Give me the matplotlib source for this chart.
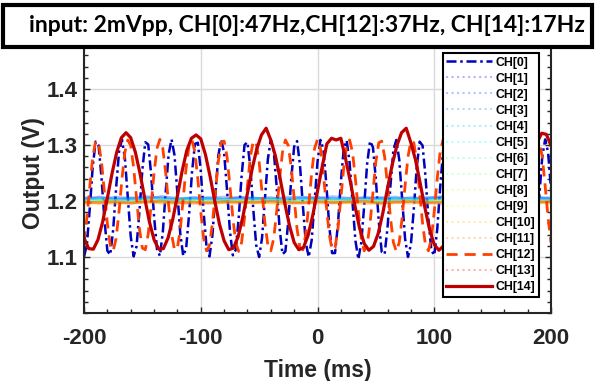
import matplotlib
matplotlib.use("Agg")
import matplotlib.pyplot as plt
import numpy as np
from matplotlib.patches import Rectangle
from matplotlib.ticker import MultipleLocator

plt.rcParams['axes.unicode_minus'] = False

# CH[0] (47 Hz) and CH[12] (37 Hz), sampled every 2.5 ms (V)
t = np.arange(-200, 200.1, 2.5)
ch0 = [1.100, 1.123, 1.188, 1.262, 1.306, 1.299, 1.242, 1.167, 1.111, 1.104,
       1.149, 1.223, 1.288, 1.310, 1.277, 1.208, 1.137, 1.101, 1.119, 1.182,
       1.256, 1.305, 1.301, 1.248, 1.173, 1.114, 1.102, 1.144, 1.217, 1.284,
       1.310, 1.282, 1.214, 1.141, 1.102, 1.116, 1.176, 1.251, 1.302, 1.304,
       1.254, 1.179, 1.117, 1.101, 1.139, 1.211, 1.280, 1.310, 1.286, 1.220,
       1.146, 1.103, 1.113, 1.170, 1.245, 1.300, 1.305, 1.259, 1.185, 1.121,
       1.100, 1.134, 1.205, 1.275, 1.309, 1.290, 1.226, 1.152, 1.105, 1.110,
       1.164, 1.239, 1.297, 1.307, 1.264, 1.191, 1.125, 1.100, 1.130, 1.198,
       1.270, 1.309, 1.293, 1.232, 1.157, 1.107, 1.107, 1.158, 1.234, 1.294,
       1.308, 1.269, 1.197, 1.129, 1.096, 1.126, 1.192, 1.266, 1.307, 1.296,
       1.238, 1.163, 1.109, 1.105, 1.153, 1.228, 1.291, 1.309, 1.274, 1.203,
       1.133, 1.100, 1.122, 1.186, 1.260, 1.306, 1.299, 1.244, 1.168, 1.112,
       1.103, 1.148, 1.222, 1.287, 1.310, 1.279, 1.209, 1.138, 1.101, 1.118,
       1.180, 1.255, 1.304, 1.302, 1.250, 1.174, 1.115, 1.102, 1.143, 1.215,
       1.283, 1.310, 1.283, 1.215, 1.143, 1.102, 1.115, 1.174, 1.250, 1.302,
       1.304, 1.255, 1.180, 1.118, 1.101, 1.138, 1.209, 1.279, 1.310, 1.287,
       1.222]
ch12 = [1.126, 1.170, 1.227, 1.279, 1.307, 1.304, 1.270, 1.216, 1.160, 1.121,
        1.111, 1.133, 1.181, 1.239, 1.287, 1.309, 1.299, 1.260, 1.204, 1.150,
        1.116, 1.113, 1.141, 1.193, 1.250, 1.294, 1.310, 1.294, 1.250, 1.193,
        1.141, 1.113, 1.116, 1.150, 1.204, 1.260, 1.299, 1.309, 1.287, 1.239,
        1.181, 1.133, 1.111, 1.121, 1.160, 1.216, 1.270, 1.304, 1.307, 1.279,
        1.227, 1.170, 1.126, 1.110, 1.126, 1.170, 1.227, 1.279, 1.307, 1.304,
        1.270, 1.216, 1.160, 1.121, 1.111, 1.133, 1.181, 1.239, 1.287, 1.309,
        1.299, 1.260, 1.204, 1.150, 1.116, 1.113, 1.141, 1.193, 1.250, 1.294,
        1.310, 1.294, 1.250, 1.193, 1.141, 1.113, 1.116, 1.150, 1.204, 1.260,
        1.299, 1.309, 1.287, 1.239, 1.181, 1.133, 1.111, 1.121, 1.160, 1.216,
        1.270, 1.304, 1.307, 1.279, 1.227, 1.170, 1.126, 1.110, 1.126, 1.170,
        1.227, 1.279, 1.307, 1.304, 1.270, 1.216, 1.160, 1.121, 1.111, 1.133,
        1.181, 1.239, 1.287, 1.309, 1.299, 1.260, 1.204, 1.150, 1.116, 1.113,
        1.141, 1.193, 1.250, 1.294, 1.310, 1.294, 1.250, 1.193, 1.141, 1.113,
        1.116, 1.150, 1.204, 1.260, 1.299, 1.309, 1.287, 1.239, 1.181, 1.133,
        1.111, 1.121, 1.160, 1.216, 1.270, 1.304, 1.307, 1.279, 1.227, 1.170,
        1.126]

# CH[14] (17 Hz), sampled every 4 ms (V)
t14 = np.arange(-200, 201, 4)
ch14 = [1.134, 1.115, 1.114, 1.131, 1.163, 1.205, 1.249, 1.287, 1.313, 1.322,
        1.313, 1.287, 1.249, 1.205, 1.163, 1.131, 1.114, 1.115, 1.134, 1.167,
        1.209, 1.253, 1.290, 1.312, 1.318, 1.311, 1.283, 1.244, 1.200, 1.159,
        1.129, 1.113, 1.116, 1.136, 1.171, 1.214, 1.257, 1.293, 1.318, 1.330,
        1.309, 1.280, 1.240, 1.196, 1.156, 1.126, 1.113, 1.117, 1.139, 1.175,
        1.218, 1.261, 1.302, 1.312, 1.309, 1.312, 1.276, 1.236, 1.192, 1.152,
        1.124, 1.112, 1.119, 1.142, 1.179, 1.223, 1.265, 1.299, 1.322, 1.330,
        1.304, 1.273, 1.231, 1.188, 1.149, 1.122, 1.112, 1.120, 1.146, 1.183,
        1.227, 1.269, 1.302, 1.316, 1.314, 1.302, 1.269, 1.227, 1.183, 1.146,
        1.120, 1.112, 1.122, 1.149, 1.188, 1.231, 1.273, 1.304, 1.321, 1.319,
        1.299]

# idle channels, noisy around 1.2 V, evenly spread over -200..200 ms
ch1 = [1.204, 1.207, 1.203, 1.205, 1.208, 1.204, 1.202, 1.206, 1.205, 1.203, 1.207, 1.204, 1.206, 1.202, 1.205, 1.207,
       1.203, 1.204, 1.206, 1.205, 1.202, 1.206, 1.204, 1.207, 1.203, 1.205, 1.206, 1.203, 1.205, 1.207, 1.204]
ch2 = [1.206, 1.203, 1.207, 1.205, 1.204, 1.208, 1.205, 1.203, 1.206, 1.207, 1.204, 1.205, 1.203, 1.207, 1.206, 1.204,
       1.208, 1.205, 1.203, 1.206, 1.207, 1.204, 1.205, 1.208, 1.204, 1.206, 1.203, 1.207, 1.205, 1.204, 1.206]
ch3 = [1.203, 1.206, 1.204, 1.202, 1.205, 1.207, 1.203, 1.205, 1.204, 1.202, 1.206, 1.205, 1.203, 1.204, 1.207, 1.203,
       1.205, 1.202, 1.206, 1.204, 1.205, 1.203, 1.207, 1.204, 1.202, 1.205, 1.206, 1.203, 1.204, 1.206, 1.203]
ch4 = [1.202, 1.204, 1.201, 1.205, 1.203, 1.202, 1.204, 1.206, 1.202, 1.203, 1.201, 1.204, 1.205, 1.202, 1.203, 1.205,
       1.201, 1.204, 1.203, 1.202, 1.205, 1.203, 1.201, 1.204, 1.206, 1.202, 1.203, 1.204, 1.201, 1.203, 1.204]
ch5 = [1.201, 1.203, 1.202, 1.200, 1.204, 1.202, 1.201, 1.203, 1.204, 1.201, 1.202, 1.200, 1.203, 1.202, 1.204, 1.201,
       1.203, 1.202, 1.200, 1.203, 1.201, 1.204, 1.202, 1.203, 1.201, 1.202, 1.204, 1.200, 1.203, 1.202, 1.201]
ch6 = [1.200, 1.202, 1.201, 1.199, 1.202, 1.203, 1.200, 1.201, 1.199, 1.202, 1.200, 1.203, 1.201, 1.199, 1.202, 1.200,
       1.201, 1.203, 1.200, 1.199, 1.202, 1.201, 1.200, 1.202, 1.199, 1.201, 1.203, 1.200, 1.202, 1.201, 1.199]
ch7 = [1.199, 1.201, 1.200, 1.198, 1.201, 1.199, 1.202, 1.200, 1.198, 1.201, 1.200, 1.199, 1.202, 1.200, 1.198, 1.201,
       1.199, 1.200, 1.202, 1.198, 1.200, 1.201, 1.199, 1.198, 1.201, 1.200, 1.202, 1.199, 1.200, 1.198, 1.201]
ch8 = [1.198, 1.200, 1.199, 1.197, 1.200, 1.201, 1.198, 1.199, 1.197, 1.200, 1.199, 1.198, 1.201, 1.199, 1.197, 1.200,
       1.198, 1.199, 1.201, 1.198, 1.199, 1.200, 1.197, 1.199, 1.200, 1.198, 1.201, 1.199, 1.197, 1.200, 1.199]
ch9 = [1.198, 1.196, 1.199, 1.197, 1.200, 1.198, 1.196, 1.199, 1.198, 1.197, 1.200, 1.198, 1.196, 1.199, 1.197, 1.198,
       1.200, 1.197, 1.199, 1.196, 1.198, 1.199, 1.197, 1.200, 1.198, 1.196, 1.199, 1.198, 1.197, 1.199, 1.198]
ch10 = [1.197, 1.195, 1.198, 1.196, 1.199, 1.197, 1.195, 1.198, 1.196, 1.197, 1.199, 1.196, 1.198, 1.195, 1.197, 1.199,
        1.196, 1.197, 1.198, 1.195, 1.197, 1.199, 1.196, 1.198, 1.197, 1.195, 1.198, 1.196, 1.199, 1.197, 1.196]
ch11 = [1.196, 1.198, 1.195, 1.197, 1.199, 1.196, 1.197, 1.195, 1.198, 1.197, 1.196, 1.199, 1.197, 1.195, 1.198, 1.196,
        1.197, 1.199, 1.195, 1.197, 1.198, 1.196, 1.197, 1.195, 1.198, 1.199, 1.196, 1.197, 1.195, 1.198, 1.197]
ch13 = [1.198, 1.197, 1.199, 1.196, 1.198, 1.200, 1.197, 1.198, 1.196, 1.199, 1.198, 1.197, 1.200, 1.198, 1.196, 1.199,
        1.197, 1.198, 1.200, 1.196, 1.198, 1.199, 1.197, 1.198, 1.196, 1.199, 1.198, 1.200, 1.197, 1.198, 1.199]

colors = ['#0000BF', '#0000FF', '#0040FF', '#0080FF', '#00BFFF', '#00FFFF', '#40FFBF',
          '#80FF80', '#BFFF40', '#FFFF00', '#FFBF00', '#FF8000', '#FF4000', '#FF0000', '#BF0000']
idle = {1: ch1, 2: ch2, 3: ch3, 4: ch4, 5: ch5, 6: ch6, 7: ch7, 8: ch8, 9: ch9, 10: ch10, 11: ch11, 13: ch13}

fig = plt.figure(figsize=(6.05, 3.81), dpi=100)
ax = fig.add_axes([84 / 605, 1 - 313 / 381, 467 / 605, 280 / 381])
for i in range(15):
    lab = f'CH[{i}]'
    if i == 0:
        ax.plot(t, ch0, color=colors[i], lw=1.8, dashes=(4, 1.5, 1, 1.5), label=lab)
    elif i == 12:
        ax.plot(t, ch12, color=colors[i], lw=2.0, dashes=(4, 2.5), label=lab)
    elif i == 14:
        ax.plot(t14, ch14, color=colors[i], lw=2.3, label=lab)
    else:
        ax.plot(np.linspace(-200, 200, len(idle[i])), idle[i], color=colors[i], lw=2.0, alpha=0.3, label=lab)

ax.set_xlim(-200, 200)
ax.set_ylim(1.0, 1.5)
ax.set_xticks([-200, -100, 0, 100, 200])
ax.set_yticks([1.1, 1.2, 1.3, 1.4])
ax.xaxis.set_minor_locator(MultipleLocator(20))
ax.yaxis.set_minor_locator(MultipleLocator(0.02))
ax.tick_params(which='both', direction='in', top=True, right=True, width=1, color='#262626')
ax.tick_params(which='major', length=4, labelsize=16, labelcolor='#262626')
ax.tick_params(axis='x', which='major', pad=11)
ax.tick_params(axis='y', which='major', pad=4.5)
ax.tick_params(which='minor', length=3)
for lbl in ax.get_xticklabels() + ax.get_yticklabels():
    lbl.set_fontweight('bold')
    lbl.set_fontfamily('Liberation Sans')
for s in ax.spines.values():
    s.set_linewidth(1.5)
    s.set_color('#262626')
ax.grid(True, which='major', color='#d9d9d9', lw=1)
ax.set_axisbelow(True)
ax.set_xlabel('Time (ms)', fontsize=16.5, fontweight='bold', family='Liberation Sans',
              color='#262626', labelpad=7)
ax.set_ylabel('Output (V)', fontsize=16.5, fontweight='bold', family='Liberation Sans',
              color='#262626', labelpad=1)

leg = ax.legend(loc='upper right', bbox_to_anchor=(0.9743, 0.9286), borderaxespad=0,
                prop={'family': 'Liberation Sans', 'weight': 'bold', 'size': 8.8},
                fancybox=False, framealpha=1, edgecolor='black', handlelength=3.7,
                handletextpad=0.33, labelspacing=0.33, borderpad=0.3)
leg.get_frame().set_linewidth(1.5)
for i, ln in enumerate(leg.get_lines()):
    if i not in (0, 12, 14):
        ln.set_linestyle(':')
        ln.set_linewidth(1.5)

# title box drawn over the top of the axes
fig.patches.append(Rectangle((3 / 605, 1 - 47 / 381), 589 / 605, 42 / 381, transform=fig.transFigure,
                             facecolor='white', edgecolor='black', lw=3, zorder=5))
fig.text(307 / 605, 1 - 26 / 381, 'input: 2mVpp, CH[0]:47Hz,CH[12]:37Hz, CH[14]:17Hz', ha='center',
         va='center', fontsize=16.5, fontweight='bold', family='Lato', zorder=6)

fig.savefig('out.png', dpi=100)
